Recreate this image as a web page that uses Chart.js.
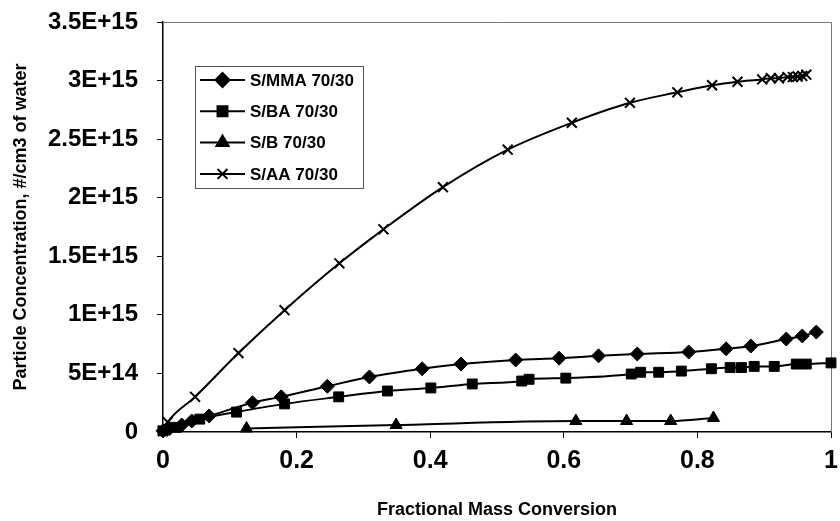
<!DOCTYPE html>
<html>
<head>
<meta charset="utf-8">
<script src="https://cdn.jsdelivr.net/npm/chart.js@4"></script>
<style>
    html, body { margin: 0; padding: 0; background: #fff; }
    #wrap { width: 840px; height: 521px; }
</style>
</head>
<body>
<div id="wrap"><canvas id="chart"></canvas></div>
<script>
// Fractional mass conversion (x) and particle concentration (#/cm3 of water)
const mmaX = [0, 0.01, 0.028, 0.043, 0.069, 0.134, 0.177, 0.246, 0.309, 0.388, 0.446, 0.528, 0.593, 0.652, 0.710, 0.787, 0.843, 0.880, 0.933, 0.957, 0.978];
const mmaY = [0.01e15, 0.03e15, 0.06e15, 0.094e15, 0.137e15, 0.25e15, 0.30e15, 0.39e15, 0.47e15, 0.54e15, 0.58e15, 0.615e15, 0.63e15, 0.65e15, 0.666e15, 0.683e15, 0.71e15, 0.734e15, 0.794e15, 0.82e15, 0.853e15];

const baX = [0, 0.02, 0.055, 0.110, 0.182, 0.263, 0.336, 0.401, 0.463, 0.537, 0.548, 0.603, 0.701, 0.715, 0.742, 0.776, 0.821, 0.849, 0.866, 0.885, 0.915, 0.948, 0.963, 1.0];
const baY = [0.01e15, 0.04e15, 0.11e15, 0.17e15, 0.24e15, 0.30e15, 0.35e15, 0.376e15, 0.41e15, 0.435e15, 0.45e15, 0.46e15, 0.495e15, 0.51e15, 0.51e15, 0.52e15, 0.54e15, 0.55e15, 0.55e15, 0.56e15, 0.56e15, 0.58e15, 0.58e15, 0.59e15];

const bX = [0.125, 0.349, 0.618, 0.694, 0.760, 0.824];
const bY = [0.03e15, 0.06e15, 0.094e15, 0.094e15, 0.094e15, 0.12e15];

const aaX = [0, 0.007, 0.048, 0.113, 0.182, 0.264, 0.330, 0.419, 0.516, 0.612, 0.699, 0.770, 0.822, 0.860, 0.897, 0.910, 0.922, 0.935, 0.943, 0.950, 0.957, 0.963];
const aaY = [0.01e15, 0.085e15, 0.30e15, 0.674e15, 1.04e15, 1.44e15, 1.73e15, 2.09e15, 2.41e15, 2.64e15, 2.81e15, 2.90e15, 2.96e15, 2.99e15, 3.01e15, 3.02e15, 3.02e15, 3.03e15, 3.03e15, 3.035e15, 3.04e15, 3.05e15];

const seriesNames = ['S/MMA 70/30', 'S/BA 70/30', 'S/B 70/30', 'S/AA 70/30'];

const xTicks = [0, 0.2, 0.4, 0.6, 0.8, 1];
const yTicks = [0, 5e14, 1e15, 1.5e15, 2e15, 2.5e15, 3e15, 3.5e15];

const FONT = "'Liberation Sans', Arial, sans-serif";

function toPoints(xs, ys) {
    return xs.map((x, i) => ({ x: x, y: ys[i] }));
}

function sciLabel(v) {
    if (Math.abs(v) < 1) return '0';
    const e = Math.floor(Math.log10(v) + 1e-9);
    const m = v / Math.pow(10, e);
    return (+m.toFixed(2)) + 'E+' + e;
}

function makeSet(label, xs, ys, style, radius) {
    return {
        label: label,
        data: toPoints(xs, ys),
        borderColor: '#000',
        backgroundColor: '#000',
        borderWidth: 2,
        pointStyle: style,
        pointRadius: radius,
        pointHoverRadius: radius,
        pointBorderWidth: style === 'crossRot' ? 2 : 1,
        pointBorderColor: '#000',
        pointBackgroundColor: '#000',
        cubicInterpolationMode: 'monotone',
        clip: false
    };
}

// frame around the plot area (top/right are light in the original)
const framePlugin = {
    id: 'frame',
    beforeDatasetsDraw(chart) {
        const { ctx, chartArea: a } = chart;
        ctx.save();
        ctx.strokeStyle = '#777';
        ctx.lineWidth = 1;
        ctx.beginPath();
        ctx.moveTo(a.left, a.top + 0.5);
        ctx.lineTo(a.right + 0.5, a.top + 0.5);
        ctx.lineTo(a.right + 0.5, a.bottom);
        ctx.stroke();
        ctx.restore();
    }
};

// legend drawn as a boxed list with line + marker samples
const boxLegend = {
    id: 'boxLegend',
    afterDraw(chart, args, opts) {
        const { ctx, chartArea: a } = chart;
        const left = a.left + opts.offsetX;
        const top = a.top + opts.offsetY;
        ctx.save();
        ctx.fillStyle = '#fff';
        ctx.fillRect(left, top, opts.width, opts.height);
        ctx.strokeStyle = '#555';
        ctx.lineWidth = 1;
        ctx.strokeRect(left + 0.5, top + 0.5, opts.width, opts.height);
        ctx.font = 'bold 17px ' + FONT;
        ctx.textBaseline = 'middle';
        chart.data.datasets.forEach((ds, i) => {
            const y = top + opts.firstRow + i * opts.rowGap;
            const x0 = left + 5;
            const x1 = x0 + opts.lineLen;
            ctx.strokeStyle = '#000';
            ctx.lineWidth = 2;
            ctx.beginPath();
            ctx.moveTo(x0, y);
            ctx.lineTo(x1, y);
            ctx.stroke();
            ctx.fillStyle = '#000';
            Chart.helpers.drawPoint(ctx, {
                pointStyle: ds.pointStyle,
                radius: ds.pointRadius,
                borderWidth: ds.pointBorderWidth,
                rotation: 0
            }, (x0 + x1) / 2, y);
            ctx.fillStyle = '#000';
            ctx.fillText(ds.label, x1 + 5, y + 1);
        });
        ctx.restore();
    }
};

const ctx = document.getElementById('chart').getContext('2d');
new Chart(ctx, {
    type: 'line',
    data: {
        datasets: [
            makeSet(seriesNames[0], mmaX, mmaY, 'rectRot', 7),
            makeSet(seriesNames[1], baX, baY, 'rect', 7),
            makeSet(seriesNames[2], bX, bY, 'triangle', 7),
            makeSet(seriesNames[3], aaX, aaY, 'crossRot', 7)
        ]
    },
    options: {
        responsive: true,
        maintainAspectRatio: false,
        animation: false,
        layout: { padding: { top: 22, right: 5, left: 0, bottom: 0 } },
        plugins: {
            legend: { display: false },
            tooltip: { enabled: false },
            boxLegend: {
                offsetX: 32, offsetY: 44, width: 168, height: 122,
                firstRow: 14, rowGap: 31.3, lineLen: 45
            }
        },
        scales: {
            x: {
                type: 'linear',
                min: 0,
                max: 1,
                afterBuildTicks: axis => { axis.ticks = xTicks.map(v => ({ value: v })); },
                afterFit: axis => {
                    axis.height = 89;
                    axis.paddingLeft = 0;
                    axis.paddingRight = 0;
                },
                border: { color: '#000', width: 1.5 },
                grid: { drawOnChartArea: false, color: '#000', tickLength: 6 },
                ticks: {
                    color: '#000',
                    padding: 8,
                    font: { family: FONT, size: 25, weight: 'bold' },
                    callback: v => String(+v.toFixed(1))
                },
                title: {
                    display: true,
                    text: 'Fractional Mass Conversion',
                    color: '#000',
                    font: { family: FONT, size: 18, weight: 'bold' },
                    padding: { top: 10, bottom: 0 }
                }
            },
            y: {
                type: 'linear',
                min: 0,
                max: 3.5e15,
                afterBuildTicks: axis => { axis.ticks = yTicks.map(v => ({ value: v })); },
                afterFit: axis => {
                    axis.width = 163;
                    axis.paddingTop = 0;
                    axis.paddingBottom = 0;
                },
                border: { color: '#000', width: 1.5 },
                grid: { drawOnChartArea: false, color: '#000', tickLength: 6 },
                ticks: {
                    color: '#000',
                    padding: 19,
                    font: { family: FONT, size: 24, weight: 'bold' },
                    callback: v => sciLabel(v)
                },
                title: {
                    display: true,
                    text: 'Particle Concentration, #/cm3 of water',
                    color: '#000',
                    font: { family: FONT, size: 18, weight: 'bold' },
                    padding: { top: 10, bottom: 4 }
                }
            }
        }
    },
    plugins: [framePlugin, boxLegend]
});
</script>
</body>
</html>
